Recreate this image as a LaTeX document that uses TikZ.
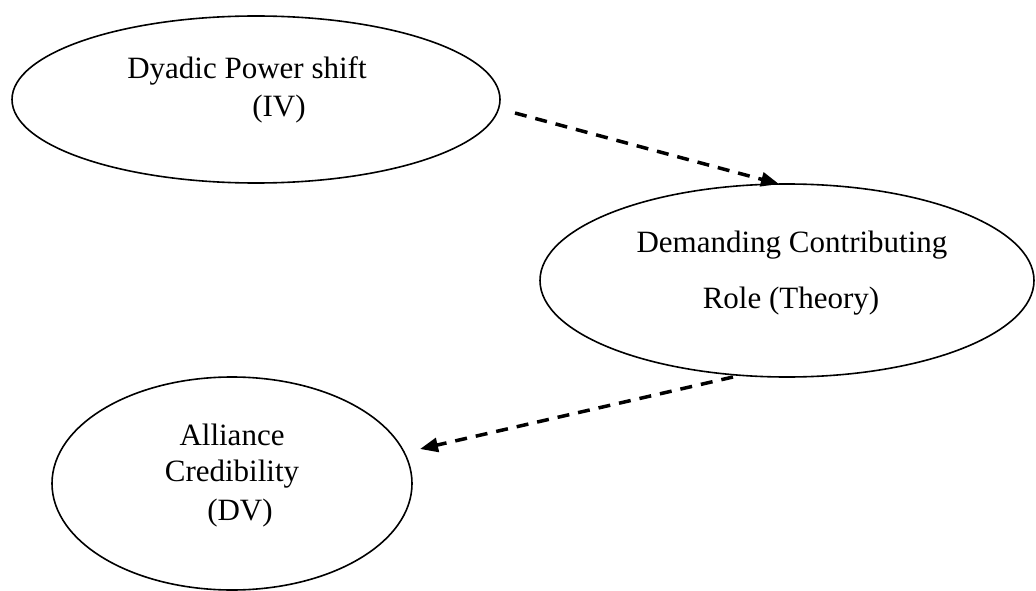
\documentclass[tikz,border=0pt]{standalone}
\usepackage{fontspec}
\setmainfont{Liberation Serif}
\usetikzlibrary{arrows.meta,shapes.geometric}
\begin{document}
\begin{tikzpicture}[x=1pt,y=-1pt,
  oval/.style={draw,ellipse,line width=1.6pt,inner sep=0pt},
  lbl/.style={inner sep=0pt,anchor=base,font=\fontsize{31}{37}\selectfont},
  link/.style={line width=3.5pt,dash pattern=on 12pt off 9pt,-{Triangle[length=18pt,width=14pt]}}]
\useasboundingbox (0,0) rectangle (1036,591);
\node[oval,minimum width=488pt,minimum height=167pt] (e1) at (256,99.5) {};
\node[oval,minimum width=494pt,minimum height=193pt] (e2) at (787,280.5) {};
\node[oval,minimum width=360pt,minimum height=213pt] (e3) at (232,483.5) {};
\node[lbl] (t1a) at (247,79) {Dyadic Power shift};
\node[lbl] (t1b) at (279,117) {(IV)};
\node[lbl] (t2a) at (792,252) {Demanding Contributing};
\node[lbl] (t2b) at (791,308) {Role (Theory)};
\node[lbl] (t3a) at (232,445) {Alliance};
\node[lbl] (t3b) at (232,481) {Credibility};
\node[lbl] (t3c) at (240,520) {(DV)};
\coordinate (a1s) at (515,113);
\coordinate (a1e) at (779,184);
\coordinate (a2s) at (733,377);
\coordinate (a2e) at (420,449);
\draw[link] (a1s) -- (a1e);
\draw[link] (a2s) -- (a2e);
\end{tikzpicture}
\end{document}
